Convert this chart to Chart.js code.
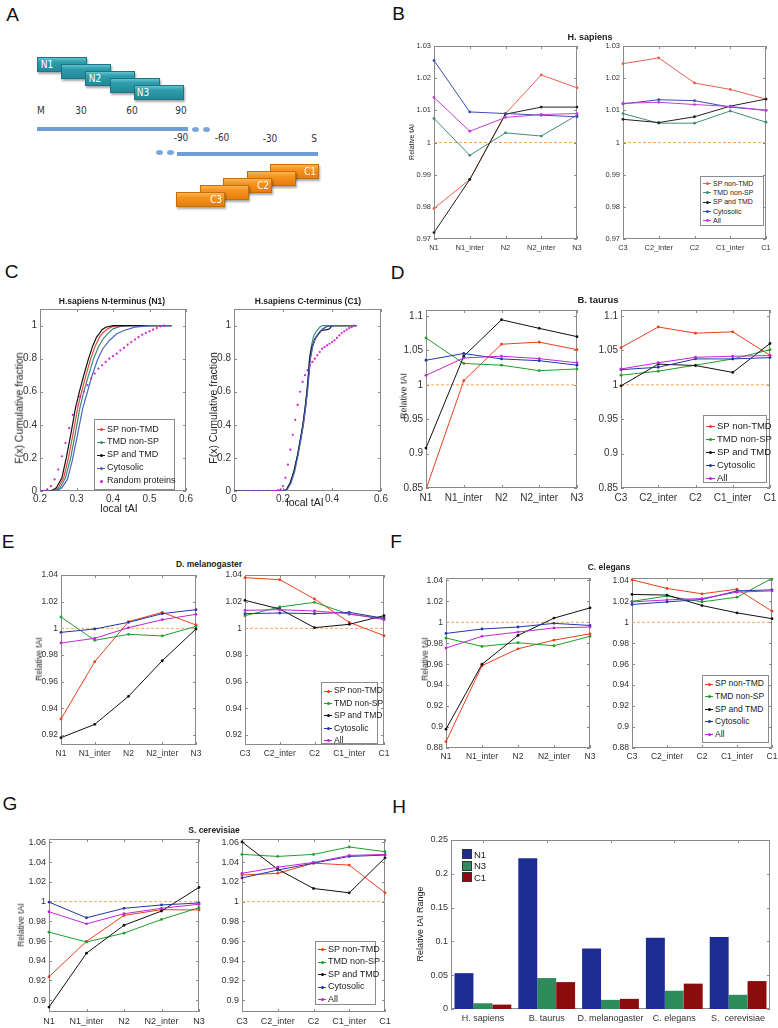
<!DOCTYPE html>
<html>
<head>
<meta charset="utf-8">
<title>Relative tAI along the protein</title>
<script src="https://cdn.jsdelivr.net/npm/chart.js@4.4.1/dist/chart.umd.min.js"></script>
<style>
  body { margin: 0; background: #fff; }
  #page { position: relative; width: 778px; height: 1028px; overflow: hidden; font-family: "Liberation Sans", Arial, sans-serif; color: #222; }
  #page canvas { position: absolute; }
  .t { position: absolute; white-space: nowrap; line-height: 1; }
  .mid { transform: translate(-50%, -50%); }
  .rot { transform: translate(-50%, -50%) rotate(-90deg); }
  .legend { position: absolute; background: #fff; border: 1px solid #8c8c8c; box-sizing: border-box; }
  .legend div { position: absolute; white-space: nowrap; line-height: 1; }
  .blk { position: absolute; box-sizing: border-box; box-shadow: 1px 2px 2px rgba(0,0,0,.35); }
  .teal { background: linear-gradient(#62c3cf 0%, #2f9dab 30%, #22899a 100%); border: 1px solid #1b7584; }
  .orange { background: linear-gradient(#fcb54e 0%, #f7931f 35%, #e47e0e 100%); border: 1px solid #c66d0b; }
  .narrow { font-family: "Liberation Sans Narrow", "DejaVu Sans Condensed", Arial, sans-serif; }
</style>
</head>
<body>
<div id="page"></div>
<script>
// ---- data ----
const nSites = ['N1', 'N1_inter', 'N2', 'N2_inter', 'N3'];
const cSites = ['C3', 'C2_inter', 'C2', 'C1_inter', 'C1'];
const groups = ['SP non-TMD', 'TMD non-SP', 'SP and TMD', 'Cytosolic', 'All'];
const baseline = [1, 1, 1, 1, 1];

// each panel: one row per group, in the order above
const hsapiensN = [
  [0.9795, 0.9885, 1.009, 1.021, 1.017],
  [1.0075, 0.996, 1.003, 1.002, 1.0085],
  [0.972, 0.9885, 1.0088, 1.011, 1.011],
  [1.0255, 1.0095, 1.009, 1.0085, 1.008],
  [1.014, 1.0035, 1.0078, 1.0087, 1.009]
];
const hsapiensC = [
  [1.0245, 1.0263, 1.0185, 1.0165, 1.0135],
  [1.009, 1.006, 1.006, 1.0098, 1.0063],
  [1.0072, 1.0062, 1.008, 1.0113, 1.0135],
  [1.012, 1.0133, 1.013, 1.011, 1.010],
  [1.0122, 1.0125, 1.0118, 1.0112, 1.010]
];
const btaurusN = [
  [0.848, 1.006, 1.059, 1.062, 1.051],
  [1.068, 1.031, 1.0285, 1.0205, 1.023],
  [0.908, 1.0415, 1.0945, 1.082, 1.070],
  [1.0357, 1.0455, 1.0376, 1.035, 1.0285],
  [1.0137, 1.039, 1.0415, 1.038, 1.032]
];
const btaurusC = [
  [1.054, 1.084, 1.075, 1.077, 1.043],
  [1.014, 1.0198, 1.0285, 1.0376, 1.051],
  [0.9985, 1.030, 1.028, 1.018, 1.060],
  [1.022, 1.0255, 1.0376, 1.0376, 1.0395],
  [1.023, 1.032, 1.040, 1.0415, 1.0425]
];
const dmelanoN = [
  [0.932, 0.975, 1.005, 1.012, 1.0025],
  [1.0085, 0.991, 0.9955, 0.9943, 1.0015],
  [0.918, 0.928, 0.949, 0.9757, 0.9995],
  [0.997, 0.9995, 1.0045, 1.011, 1.014],
  [0.989, 0.9925, 1.0005, 1.0065, 1.0105]
];
const dmelanoC = [
  [1.038, 1.0365, 1.022, 1.0045, 0.9945],
  [1.0095, 1.016, 1.0195, 1.0105, 1.0075],
  [1.021, 1.0145, 1.0005, 1.003, 1.0095],
  [1.011, 1.0115, 1.011, 1.012, 1.0075],
  [1.0135, 1.014, 1.013, 1.011, 1.0065]
];
const celegansN = [
  [0.886, 0.9587, 0.9747, 0.983, 0.989],
  [0.985, 0.977, 0.9805, 0.9776, 0.9866],
  [0.898, 0.960, 0.9875, 1.004, 1.0138],
  [0.9894, 0.9936, 0.9955, 0.999, 0.997],
  [0.9754, 0.9866, 0.9907, 0.9946, 0.9955]
];
const celegansC = [
  [1.0406, 1.0323, 1.0272, 1.0317, 1.0106],
  [1.020, 1.025, 1.0195, 1.024, 1.042],
  [1.0266, 1.026, 1.016, 1.009, 1.0035],
  [1.017, 1.0195, 1.0218, 1.030, 1.031],
  [1.0195, 1.0214, 1.0227, 1.0288, 1.030]
];
const scerevN = [
  [0.9238, 0.9597, 0.986, 0.9918, 0.9915],
  [0.969, 0.959, 0.968, 0.9819, 0.9938],
  [0.893, 0.9477, 0.976, 0.9904, 1.0144],
  [0.9995, 0.9836, 0.9932, 0.9966, 0.9986],
  [0.9897, 0.9774, 0.9877, 0.9932, 0.9973]
];
const scerevC = [
  [1.027, 1.0287, 1.039, 1.037, 1.0089],
  [1.0479, 1.0458, 1.0479, 1.0554, 1.0506],
  [1.0605, 1.0328, 1.0133, 1.0089, 1.0444],
  [1.024, 1.032, 1.039, 1.0458, 1.0472],
  [1.0287, 1.0349, 1.0397, 1.0468, 1.0479]
];

// y tick labels
const ticksB = [0.97, 0.98, 0.99, 1, 1.01, 1.02, 1.03];
const ticksD = [0.85, 0.9, 0.95, 1, 1.05, 1.1];
const ticksE = [0.92, 0.94, 0.96, 0.98, 1, 1.02, 1.04];
const ticksF = [0.88, 0.9, 0.92, 0.94, 0.96, 0.98, 1, 1.02, 1.04];
const ticksG = [0.9, 0.92, 0.94, 0.96, 0.98, 1, 1.02, 1.04, 1.06];

// C: cumulative distributions of local tAI, [tAI, F(x)]
const cdfNames = ['SP non-TMD', 'TMD non-SP', 'SP and TMD', 'Cytosolic', 'Random proteins'];
const n1SpNonTmd = [[0.2,0],[0.235,0],[0.25,0.02],[0.265,0.08],[0.278,0.2],[0.291,0.35],[0.303,0.5],[0.314,0.6],[0.326,0.7],[0.339,0.8],[0.352,0.88],[0.363,0.93],[0.372,0.955],[0.385,0.98],[0.40,0.995],[0.43,1],[0.56,1]];
const n1TmdNonSp = [[0.2,0],[0.24,0],[0.255,0.02],[0.27,0.08],[0.284,0.2],[0.297,0.35],[0.309,0.5],[0.32,0.6],[0.333,0.7],[0.347,0.8],[0.36,0.87],[0.373,0.92],[0.385,0.95],[0.40,0.98],[0.42,0.995],[0.45,1],[0.56,1]];
const n1SpTmd = [[0.2,0],[0.23,0],[0.245,0.02],[0.26,0.08],[0.272,0.2],[0.285,0.35],[0.297,0.5],[0.308,0.6],[0.32,0.7],[0.333,0.8],[0.345,0.88],[0.355,0.93],[0.362,0.95],[0.37,0.975],[0.38,0.99],[0.40,1],[0.56,1]];
const n1Cytosolic = [[0.2,0],[0.245,0],[0.26,0.02],[0.275,0.07],[0.288,0.18],[0.302,0.33],[0.317,0.5],[0.33,0.6],[0.343,0.7],[0.357,0.79],[0.372,0.86],[0.39,0.91],[0.41,0.95],[0.43,0.97],[0.46,0.99],[0.50,1],[0.56,1]];
const n1Random = [[0.2,0],[0.21,0],[0.22,0.01],[0.23,0.03],[0.24,0.07],[0.25,0.13],[0.26,0.21],[0.27,0.29],[0.28,0.38],[0.29,0.46],[0.30,0.52],[0.31,0.57],[0.32,0.6],[0.33,0.64],[0.34,0.68],[0.35,0.71],[0.36,0.74],[0.37,0.76],[0.38,0.78],[0.39,0.8],[0.40,0.815],[0.41,0.83],[0.42,0.85],[0.43,0.865],[0.44,0.885],[0.45,0.9],[0.46,0.915],[0.47,0.93],[0.48,0.945],[0.49,0.955],[0.50,0.965],[0.51,0.975],[0.52,0.985],[0.53,0.995],[0.54,1]];
const c1SpNonTmd = [[0,0],[0.2,0],[0.215,0.01],[0.23,0.05],[0.245,0.12],[0.26,0.22],[0.273,0.32],[0.283,0.4],[0.292,0.5],[0.299,0.6],[0.305,0.7],[0.311,0.8],[0.32,0.87],[0.332,0.92],[0.345,0.95],[0.36,0.975],[0.38,0.995],[0.40,1],[0.5,1]];
const c1TmdNonSp = [[0,0],[0.2,0],[0.215,0.01],[0.23,0.05],[0.245,0.12],[0.26,0.22],[0.272,0.32],[0.281,0.4],[0.29,0.5],[0.297,0.6],[0.303,0.7],[0.308,0.8],[0.316,0.88],[0.326,0.94],[0.338,0.97],[0.35,0.99],[0.36,1],[0.5,1]];
const c1SpTmd = [[0,0],[0.2,0],[0.215,0.01],[0.23,0.05],[0.245,0.12],[0.26,0.22],[0.272,0.32],[0.281,0.4],[0.29,0.5],[0.298,0.6],[0.304,0.7],[0.309,0.8],[0.318,0.87],[0.33,0.92],[0.345,0.95],[0.356,0.97],[0.38,0.975],[0.39,0.98],[0.40,1],[0.5,1]];
const c1Cytosolic = [[0,0],[0.2,0],[0.218,0.01],[0.233,0.05],[0.248,0.12],[0.262,0.22],[0.274,0.32],[0.283,0.4],[0.292,0.5],[0.3,0.6],[0.306,0.7],[0.312,0.8],[0.322,0.88],[0.334,0.93],[0.348,0.96],[0.362,0.98],[0.38,0.995],[0.41,1],[0.5,1]];
const c1Random = [[0,0],[0.02,0],[0.04,0],[0.06,0],[0.08,0],[0.1,0],[0.12,0],[0.14,0],[0.16,0],[0.17,0],[0.18,0.005],[0.19,0.01],[0.2,0.03],[0.21,0.08],[0.22,0.16],[0.23,0.25],[0.24,0.34],[0.25,0.43],[0.26,0.52],[0.27,0.6],[0.28,0.66],[0.29,0.7],[0.30,0.73],[0.31,0.76],[0.32,0.78],[0.33,0.8],[0.34,0.82],[0.35,0.84],[0.36,0.86],[0.37,0.87],[0.38,0.88],[0.39,0.89],[0.40,0.9],[0.41,0.91],[0.42,0.925],[0.43,0.94],[0.44,0.955],[0.45,0.965],[0.46,0.975],[0.47,0.985],[0.48,0.99],[0.49,1]];
const cdfYTicks = [0, 0.2, 0.4, 0.6, 0.8, 1];
const n1XTicks = [0.2, 0.3, 0.4, 0.5, 0.6];
const c1XTicks = [0, 0.2, 0.4, 0.6];

// H: range of relative tAI per organism
const species = ['H. sapiens', 'B. taurus', 'D. melanogaster', 'C. elegans', 'S.  cerevisiae'];
const rangeN1 = [0.053, 0.223, 0.0895, 0.1055, 0.1065];
const rangeN3 = [0.0085, 0.0458, 0.0135, 0.027, 0.021];
const rangeC1 = [0.0065, 0.0398, 0.015, 0.0375, 0.0413];
const ticksH = [0, 0.05, 0.1, 0.15, 0.2, 0.25];

// ---- helpers ----
const page = document.getElementById('page');
const FONT = '"Liberation Sans", Arial, sans-serif';
Chart.defaults.font.family = FONT;
Chart.defaults.color = '#333';

const colB = ['#e4604e', '#3f8e74', '#222222', '#3c4cb0', '#c23fd6'];
const colMain = ['#e8401c', '#1f9e2a', '#111111', '#2535a5', '#c026d3'];
const colC = ['#e24a3c', '#3a8a74', '#111111', '#4a66c0', '#d21fd2'];
const refColor = '#f7a860';

const ML = 34, MT = 6, MR = 14, MB = 22;
const fmt = v => String(+v.toFixed(3));

function addText(txt, x, y, size, cls, extra) {
  const d = document.createElement('div');
  d.className = 't ' + (cls || '');
  d.textContent = txt;
  d.style.left = x + 'px';
  d.style.top = y + 'px';
  d.style.fontSize = size + 'px';
  if (extra) Object.assign(d.style, extra);
  page.appendChild(d);
  return d;
}

function makeCanvas(b) {
  const c = document.createElement('canvas');
  const w = b.w + ML + MR, h = b.h + MT + MB;
  c.width = w; c.height = h;
  c.style.width = w + 'px'; c.style.height = h + 'px';
  c.style.left = (b.x - ML) + 'px'; c.style.top = (b.y - MT) + 'px';
  page.appendChild(c);
  return c;
}

// matlab style frame with inward ticks on all four sides
const matlabBox = {
  id: 'matlabBox',
  beforeDatasetsDraw(chart) {
    const { ctx, chartArea: a, scales: { x, y } } = chart;
    ctx.save();
    ctx.strokeStyle = '#8a8a8a';
    ctx.lineWidth = 1;
    ctx.beginPath();
    x.ticks.forEach((t, i) => {
      const px = Math.round(x.getPixelForTick(i)) + 0.5;
      ctx.moveTo(px, a.bottom); ctx.lineTo(px, a.bottom - 3);
      ctx.moveTo(px, a.top); ctx.lineTo(px, a.top + 3);
    });
    y.ticks.forEach((t, i) => {
      const py = Math.round(y.getPixelForTick(i)) + 0.5;
      ctx.moveTo(a.left, py); ctx.lineTo(a.left + 3, py);
      ctx.moveTo(a.right, py); ctx.lineTo(a.right - 3, py);
    });
    ctx.stroke();
    ctx.strokeRect(Math.round(a.left) + 0.5, Math.round(a.top) + 0.5, Math.round(a.width) - 1, Math.round(a.height) - 1);
    ctx.restore();
  }
};

function yAxis(min, max, ticks, size) {
  return {
    type: 'linear', min, max,
    afterBuildTicks: s => { s.ticks = ticks.map(v => ({ value: v })); },
    afterFit: s => { s.width = ML; s.paddingTop = 0; s.paddingBottom = 0; },
    grid: { display: false, drawTicks: false },
    border: { display: false },
    ticks: { font: { size }, color: '#333', padding: 3, autoSkip: false, callback: v => fmt(v) }
  };
}

function xAxis(size, extra) {
  return Object.assign({
    type: 'category', offset: false,
    afterFit: s => { s.height = MB; s.paddingLeft = 0; s.paddingRight = 0; },
    grid: { display: false, drawTicks: false },
    border: { display: false },
    ticks: { font: { size }, color: '#333', padding: 4, maxRotation: 0, autoSkip: false }
  }, extra || {});
}

function baseOptions(scales) {
  return {
    responsive: false, animation: false, events: [],
    layout: { padding: { top: MT, right: MR, left: 0, bottom: 0 }, autoPadding: false },
    plugins: { legend: { display: false }, tooltip: { enabled: false } },
    scales
  };
}

function linePanel(b, labels, rows, colors, yMin, yMax, yTicks, size) {
  const datasets = rows.map((r, i) => ({
    label: groups[i], data: r,
    borderColor: colors[i], backgroundColor: colors[i],
    borderWidth: 1, pointRadius: 1.4, pointBorderWidth: 0, order: 5 - i
  }));
  datasets.push({ label: 'ref', data: baseline, borderColor: refColor, borderWidth: 1, borderDash: [3, 2], pointRadius: 0, order: 9 });
  new Chart(makeCanvas(b), {
    type: 'line',
    data: { labels, datasets },
    options: baseOptions({ x: xAxis(size), y: yAxis(yMin, yMax, yTicks, size) }),
    plugins: [matlabBox]
  });
}

function cdfPanel(b, curves, xMin, xMax, xTicks) {
  const datasets = curves.map((c, i) => i < 4 ? ({
    label: cdfNames[i], data: c, showLine: true,
    borderColor: colC[i], backgroundColor: colC[i], borderWidth: 1.2, pointRadius: 0, order: 5 - i
  }) : ({
    label: cdfNames[i], data: c, showLine: false,
    borderColor: colC[i], backgroundColor: colC[i], pointRadius: 1.1, pointBorderWidth: 0, order: 0
  }));
  new Chart(makeCanvas(b), {
    type: 'scatter',
    data: { datasets },
    options: baseOptions({
      x: {
        type: 'linear', min: xMin, max: xMax,
        afterBuildTicks: s => { s.ticks = xTicks.map(v => ({ value: v })); },
        afterFit: s => { s.height = MB; s.paddingLeft = 0; s.paddingRight = 0; },
        grid: { display: false, drawTicks: false }, border: { display: false },
        ticks: { font: { size: 10 }, color: '#333', padding: 2, maxRotation: 0, autoSkip: false, callback: v => fmt(v) }
      },
      y: yAxis(0, 1.1, cdfYTicks, 10)
    }),
    plugins: [matlabBox]
  });
}

function addLegend(x, y, w, h, names, colors, size, first, rowH, lineW, dotLast) {
  const box = document.createElement('div');
  box.className = 'legend';
  Object.assign(box.style, { left: x + 'px', top: y + 'px', width: w + 'px', height: h + 'px' });
  names.forEach((n, i) => {
    const cy = first + rowH * i;
    const onlyDot = dotLast && i === names.length - 1;
    if (!onlyDot) {
      const ln = document.createElement('div');
      Object.assign(ln.style, { left: '2px', top: (cy - 0.5) + 'px', width: lineW + 'px', height: '1px', background: colors[i] });
      box.appendChild(ln);
    }
    const dot = document.createElement('div');
    Object.assign(dot.style, { left: (2 + lineW / 2 - 1.5) + 'px', top: (cy - 1.5) + 'px', width: '3px', height: '3px', borderRadius: '50%', background: colors[i] });
    box.appendChild(dot);
    const tx = document.createElement('div');
    tx.textContent = n;
    Object.assign(tx.style, { left: (lineW + 4) + 'px', top: (cy - size * 0.55) + 'px', fontSize: size + 'px', color: '#222' });
    box.appendChild(tx);
  });
  page.appendChild(box);
}

// ---- panel A : schematic of the windows ----
(function schematic() {
  for (let i = 0; i < 5; i++) {
    const d = document.createElement('div');
    d.className = 'blk teal';
    Object.assign(d.style, { left: (37 + 24.2 * i) + 'px', top: (57 + 7 * i) + 'px', width: '50px', height: '15px', zIndex: 1 + i });
    page.appendChild(d);
  }
  for (let i = 0; i < 5; i++) {
    const d = document.createElement('div');
    d.className = 'blk orange';
    Object.assign(d.style, { left: (176 + 23.5 * i) + 'px', top: (192 - 7 * i) + 'px', width: '49px', height: '15px', zIndex: 6 - i });
    page.appendChild(d);
  }
  const white = { color: '#fff', zIndex: 20 };
  addText('N1', 47, 65, 10, 'narrow mid', white);
  addText('N2', 95, 79, 10, 'narrow mid', white);
  addText('N3', 143, 93, 10, 'narrow mid', white);
  addText('C3', 216, 200, 10, 'narrow mid', white);
  addText('C2', 263, 186, 10, 'narrow mid', white);
  addText('C1', 310, 172, 10, 'narrow mid', white);
  const grey = { color: '#333' };
  addText('M', 41, 111, 10, 'narrow mid', grey);
  addText('30', 81, 111, 10, 'narrow mid', grey);
  addText('60', 132, 111, 10, 'narrow mid', grey);
  addText('90', 181, 111, 10, 'narrow mid', grey);
  addText('-90', 181, 138, 10, 'narrow mid', grey);
  addText('-60', 222, 138, 10, 'narrow mid', grey);
  addText('-30', 270, 139, 10, 'narrow mid', grey);
  addText('S', 314, 139, 10, 'narrow mid', grey);
  const bar = (l, t, w) => {
    const d = document.createElement('div');
    Object.assign(d.style, { position: 'absolute', left: l + 'px', top: t + 'px', width: w + 'px', height: '3.5px', background: '#6d9fd6' });
    page.appendChild(d);
  };
  bar(37, 127, 151);
  bar(177, 152, 141);
  [[195, 129], [206, 129], [159, 152], [170, 152]].forEach(p => {
    const d = document.createElement('div');
    Object.assign(d.style, { position: 'absolute', left: (p[0] - 3.5) + 'px', top: (p[1] - 2.5) + 'px', width: '7px', height: '5px', borderRadius: '50%', background: '#7aa6dc' });
    page.appendChild(d);
  });
})();

// ---- panel letters ----
[['A', 12.5, 13.5], ['B', 398.5, 12.5], ['C', 11.5, 270.5], ['D', 397.5, 271.5],
 ['E', 8, 541], ['F', 396, 541], ['G', 10, 803], ['H', 399, 806]]
  .forEach(l => addText(l[0], l[1], l[2], 19, 'mid', { color: '#111' }));

// ---- B : H. sapiens ----
linePanel({ x: 434, y: 46, w: 143, h: 193 }, nSites, hsapiensN, colB, 0.97, 1.03, ticksB, 7.5);
linePanel({ x: 623, y: 46, w: 143, h: 193 }, cSites, hsapiensC, colB, 0.97, 1.03, ticksB, 7.5);
addText('H. sapiens', 590, 37, 9, 'mid', { fontWeight: 'bold' });
addText('Relative tAI', 411, 142, 7, 'rot');
addLegend(700, 176, 64, 50, groups, colB, 7, 6.5, 9.3, 8, false);

// ---- C : cumulative fractions ----
cdfPanel({ x: 40, y: 309, w: 146, h: 182 }, [n1SpNonTmd, n1TmdNonSp, n1SpTmd, n1Cytosolic, n1Random], 0.2, 0.6, n1XTicks);
cdfPanel({ x: 234, y: 309, w: 147, h: 182 }, [c1SpNonTmd, c1TmdNonSp, c1SpTmd, c1Cytosolic, c1Random], 0, 0.6, c1XTicks);
addText('H.sapiens N-terminus (N1)', 112, 301, 8.5, 'mid', { fontWeight: 'bold' });
addText('H.sapiens C-terminus (C1)', 308, 301, 8.5, 'mid', { fontWeight: 'bold' });
addText('F(x) Cumulative fraction', 19, 408, 10.5, 'rot');
addText('F(x) Cumulative fraction', 213, 408, 10.5, 'rot');
addText('local tAI', 119, 508, 10.5, 'mid');
addText('local tAI', 305, 502, 10.5, 'mid');
addLegend(94, 419, 81, 71, cdfNames, colC, 9, 9.5, 12.9, 8, true);

// ---- D : B. taurus ----
linePanel({ x: 426, y: 310, w: 151, h: 178 }, nSites, btaurusN, colMain, 0.85, 1.1087, ticksD, 10);
linePanel({ x: 621, y: 310, w: 149, h: 178 }, cSites, btaurusC, colMain, 0.85, 1.1087, ticksD, 10);
addText('B. taurus', 598, 300, 9.5, 'mid', { fontWeight: 'bold' });
addText('Relative tAI', 404, 396, 9, 'rot');
addLegend(703, 415, 64, 68, groups, colMain, 9.5, 10, 13, 9, false);

// ---- E : D. melanogaster ----
linePanel({ x: 61, y: 575, w: 135, h: 170 }, nSites, dmelanoN, colMain, 0.9125, 1.04, ticksE, 8.5);
linePanel({ x: 245, y: 575, w: 139, h: 170 }, cSites, dmelanoC, colMain, 0.9125, 1.04, ticksE, 8.5);
addText('D. melanogaster', 209, 564, 8.5, 'mid', { fontWeight: 'bold' });
addText('Relative tAI', 39, 659, 8.5, 'rot');
addLegend(321, 682, 57, 62, groups, colMain, 8.5, 8, 12.4, 8, false);

// ---- F : C. elegans ----
linePanel({ x: 446, y: 578, w: 144, h: 170 }, nSites, celegansN, colMain, 0.88, 1.0423, ticksF, 8.5);
linePanel({ x: 632, y: 578, w: 140, h: 170 }, cSites, celegansC, colMain, 0.88, 1.0423, ticksF, 8.5);
addText('C. elegans', 609, 567, 8.5, 'mid', { fontWeight: 'bold' });
addText('Relative tAI', 425, 659, 8.5, 'rot');
addLegend(702, 675, 67, 68, groups, colMain, 8.5, 8, 12.6, 8, false);

// ---- G : S. cerevisiae ----
linePanel({ x: 49, y: 839, w: 150, h: 173 }, nSites, scerevN, colMain, 0.888, 1.0635, ticksG, 9);
linePanel({ x: 242, y: 839, w: 143, h: 173 }, cSites, scerevC, colMain, 0.888, 1.0635, ticksG, 9);
addText('S. cerevisiae', 214, 830, 8.5, 'mid', { fontWeight: 'bold' });
addText('Relative tAI', 21, 925, 8.5, 'rot');
addLegend(315, 941, 61, 64, groups, colMain, 9, 7.5, 12.5, 8, false);

// ---- H : ranges ----
(function rangePanel() {
  const b = { x: 451, y: 840, w: 319, h: 169 };
  const barCols = ['#1c2c92', '#2e8c5c', '#8a0c0c'];
  const datasets = [rangeN1, rangeN3, rangeC1].map((d, i) => ({
    label: ['N1', 'N3', 'C1'][i], data: d, backgroundColor: barCols[i], borderWidth: 0,
    categoryPercentage: 0.89, barPercentage: 1.0
  }));
  new Chart(makeCanvas(b), {
    type: 'bar',
    data: { labels: species, datasets },
    options: baseOptions({ x: xAxis(9, { offset: true }), y: yAxis(0, 0.25, ticksH, 9) }),
    plugins: [matlabBox]
  });
  addText('Relative tAI Range', 420, 924, 9, 'rot');
  ['N1', 'N3', 'C1'].forEach((n, i) => {
    const sq = document.createElement('div');
    Object.assign(sq.style, { position: 'absolute', left: '462px', top: (849 + 11.5 * i) + 'px', width: '10px', height: '10px', background: barCols[i], boxSizing: 'border-box', border: '1px solid #333' });
    page.appendChild(sq);
    addText(n, 474, 849.5 + 11.5 * i, 9.5, '', { color: '#222' });
  });
})();
</script>
</body>
</html>
